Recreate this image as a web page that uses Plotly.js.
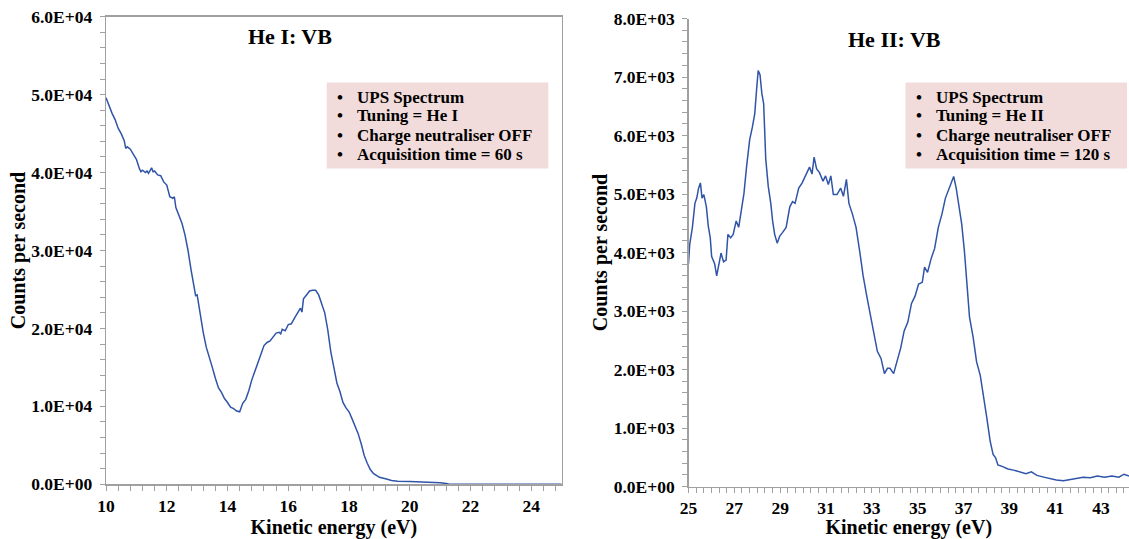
<!DOCTYPE html>
<html>
<head>
<meta charset="utf-8">
<script src="https://cdn.plot.ly/plotly-3.0.1.min.js"></script>
<style>html,body{margin:0;padding:0;background:#fff;}#chart{width:1129px;height:539px;}</style>
</head>
<body>
<div id="chart"></div>
<script>
// He I valence band spectrum
const heI_energy = [10.0,10.1,10.2,10.3,10.4,10.5,10.6,10.65,10.7,10.8,10.9,11.0,11.1,11.15,11.2,11.3,11.35,11.4,11.5,11.55,11.6,11.7,11.8,11.9,12.0,12.1,12.2,12.25,12.3,12.4,12.5,12.6,12.7,12.8,12.9,12.95,13.0,13.1,13.2,13.3,13.4,13.5,13.6,13.7,13.8,13.9,14.0,14.1,14.2,14.3,14.4,14.45,14.5,14.6,14.7,14.8,14.9,15.0,15.1,15.2,15.3,15.4,15.5,15.6,15.7,15.75,15.8,15.9,16.0,16.1,16.2,16.3,16.4,16.45,16.5,16.6,16.7,16.8,16.9,17.0,17.1,17.2,17.3,17.4,17.5,17.6,17.7,17.8,17.9,18.0,18.1,18.2,18.3,18.4,18.5,18.6,18.7,18.8,18.9,19.0,19.2,19.4,19.6,19.8,20.0,20.4,20.8,21.0,21.2,21.3,22.0,23.0,24.0,25.0];
const heI_counts = [49600,48500,47600,46800,45700,45000,44100,43100,43300,43000,42300,41700,40500,40100,40300,40000,40200,39900,40600,40100,40200,39700,39600,38800,38400,36900,36700,36900,35500,34400,33500,32000,30000,27500,25000,24200,24300,21800,19500,17600,16400,15000,13600,12400,11800,11000,10500,9900,9700,9400,9300,9800,10400,10900,12000,13400,14600,15500,16700,17800,18200,18400,18900,19400,19500,19300,19900,19700,20500,20600,21300,21900,22600,22100,23800,24300,24800,24900,24900,24300,23200,22000,19800,17000,15000,13000,11900,10500,9800,9300,8400,7500,6500,5200,3700,2700,1900,1400,1100,900,700,500,400,350,350,300,280,200,100,0,0,0,0,0];

// He II valence band spectrum
const heII_energy = [25.0,25.05,25.17,25.28,25.36,25.44,25.52,25.59,25.67,25.78,25.86,25.95,26.01,26.14,26.23,26.33,26.42,26.53,26.64,26.72,26.84,26.95,27.08,27.19,27.31,27.42,27.54,27.67,27.78,27.89,27.97,28.04,28.12,28.2,28.28,28.37,28.48,28.59,28.67,28.76,28.87,28.98,29.1,29.26,29.42,29.54,29.65,29.81,29.96,30.12,30.28,30.39,30.48,30.59,30.71,30.87,30.98,31.1,31.21,31.32,31.48,31.64,31.76,31.89,32.0,32.15,32.31,32.47,32.62,32.78,32.94,33.09,33.24,33.4,33.55,33.68,33.79,33.95,34.1,34.26,34.41,34.57,34.73,34.88,35.04,35.2,35.3,35.43,35.59,35.74,35.9,36.06,36.21,36.37,36.48,36.57,36.68,36.79,36.92,37.04,37.15,37.26,37.42,37.57,37.73,37.88,38.01,38.16,38.29,38.4,38.5,38.71,38.94,39.18,39.49,39.72,39.96,40.2,40.5,40.74,41.05,41.36,41.67,41.98,42.22,42.53,42.84,43.15,43.47,43.78,44.0,44.22];
const heII_counts = [3810,4130,4430,4840,4930,5100,5190,4930,4990,4780,4460,4250,3930,3810,3600,3810,3990,3840,3870,4310,4250,4310,4540,4430,4750,5010,5490,5930,6130,6370,6780,7110,7040,6720,6540,5600,5130,4840,4540,4310,4160,4280,4340,4430,4780,4870,4840,5100,5190,5340,5460,5340,5630,5430,5370,5220,5310,5160,5310,4990,4990,5100,4960,5250,4840,4660,4430,4020,3600,3250,2900,2630,2310,2190,1930,2020,2020,1930,2130,2370,2660,2810,3130,3250,3460,3490,3750,3660,3900,4070,4430,4660,4930,5100,5190,5300,5100,4840,4490,4020,3430,2900,2550,2130,1900,1550,1190,780,550,490,370,340,300,280,240,220,250,190,160,140,110,100,120,150,160,150,180,160,180,160,210,180];

// Axis ticks
const heI_xTicks = [10,12,14,16,18,20,22,24];
const heI_yTicks = [0,10000,20000,30000,40000,50000,60000];
const heI_yTickText = ["0.0E+00","1.0E+04","2.0E+04","3.0E+04","4.0E+04","5.0E+04","6.0E+04"];
const heII_xTicks = [25,27,29,31,33,35,37,39,41,43];
const heII_yTicks = [0,1000,2000,3000,4000,5000,6000,7000,8000];
const heII_yTickText = ["0.0E+00","1.0E+03","2.0E+03","3.0E+03","4.0E+03","5.0E+03","6.0E+03","7.0E+03","8.0E+03"];

// Text
const panelTitles = ["He I: VB","He II: VB"];
const xTitle = "Kinetic energy (eV)";
const yTitle = "Counts per second";
const heI_info = ["UPS Spectrum","Tuning = He I","Charge neutraliser OFF","Acquisition time = 60 s"];
const heII_info = ["UPS Spectrum","Tuning = He II","Charge neutraliser OFF","Acquisition time = 120 s"];

const W = 1129, H = 539;
const px = v => v / W;
const py = v => 1 - v / H;
const FONT = "Liberation Serif, Times New Roman, serif";
const LINE = "#2f54a8";
const AX = "#a0a0a0";

function axisX(domain, ticks, range, minorStep, t0, anchor) {
  return {
    domain: domain, range: range, anchor: anchor,
    tickmode: "array", tickvals: ticks,
    ticks: "outside", ticklen: 5, tickcolor: AX, tickwidth: 1,
    minor: {ticks: "outside", ticklen: 5, tickcolor: AX, dtick: minorStep, tick0: t0, showgrid: false},
    showline: true, linecolor: AX, linewidth: 1.3, mirror: true,
    showgrid: false, zeroline: false,
    tickfont: {family: FONT, size: 17.5, color: "#000", weight: "bold"},
    title: {text: xTitle, font: {family: FONT, size: 20, color: "#000", weight: "bold"}, standoff: 6},
    fixedrange: true
  };
}
function axisY(domain, ticks, text, range, minorStep, anchor, mirror) {
  return {
    domain: domain, range: range, anchor: anchor,
    tickmode: "array", tickvals: ticks, ticktext: text,
    ticks: "outside", ticklen: 5, tickcolor: AX, tickwidth: 1,
    ticklabelstandoff: 4,
    minor: {ticks: "outside", ticklen: 5, tickcolor: AX, dtick: minorStep, tick0: 0, showgrid: false},
    showline: true, linecolor: AX, linewidth: 1.3, mirror: mirror,
    showgrid: false, zeroline: false,
    tickfont: {family: FONT, size: 17.5, color: "#000", weight: "bold"},
    title: {text: yTitle, font: {family: FONT, size: 20, color: "#000", weight: "bold"}, standoff: 0},
    fixedrange: true
  };
}

const traces = [
  {x: heI_energy, y: heI_counts, xaxis: "x", yaxis: "y", type: "scatter", mode: "lines",
   line: {color: LINE, width: 1.5}, hoverinfo: "skip"},
  {x: heII_energy, y: heII_counts, xaxis: "x2", yaxis: "y2", type: "scatter", mode: "lines",
   line: {color: LINE, width: 1.5}, hoverinfo: "skip"}
];

const shapes = [
  {type: "rect", xref: "paper", yref: "paper", x0: px(326.7), x1: px(548.3), y0: py(168.5), y1: py(82.5),
   fillcolor: "#f2dcdb", line: {width: 0}, layer: "below"},
  {type: "rect", xref: "paper", yref: "paper", x0: px(905.5), x1: px(1127), y0: py(168.5), y1: py(82.5),
   fillcolor: "#f2dcdb", line: {width: 0}, layer: "below"}
];

const annotations = [
  {text: panelTitles[0], xref: "paper", yref: "paper", x: px(290), y: py(36), xanchor: "center", yanchor: "middle",
   showarrow: false, font: {family: FONT, size: 22, color: "#000", weight: "bold"}},
  {text: panelTitles[1], xref: "paper", yref: "paper", x: px(894), y: py(39), xanchor: "center", yanchor: "middle",
   showarrow: false, font: {family: FONT, size: 22, color: "#000", weight: "bold"}}
];
const lineY = [97, 116, 135, 154];
function addInfo(lines, bulletX, textX) {
  lines.forEach((t, i) => {
    annotations.push({text: "\u2022", xref: "paper", yref: "paper", x: px(bulletX), y: py(lineY[i]),
      xanchor: "center", yanchor: "middle", showarrow: false,
      font: {family: FONT, size: 17, color: "#000", weight: "bold"}});
    annotations.push({text: t, xref: "paper", yref: "paper", x: px(textX), y: py(lineY[i]),
      xanchor: "left", yanchor: "middle", showarrow: false,
      font: {family: FONT, size: 17, color: "#000", weight: "bold"}});
  });
}
addInfo(heI_info, 340, 355);
addInfo(heII_info, 919, 934);

const layout = {
  width: W, height: H,
  margin: {l: 0, r: 0, t: 0, b: 0},
  paper_bgcolor: "#fff", plot_bgcolor: "#fff",
  showlegend: false,
  xaxis: axisX([px(106), px(561.7)], heI_xTicks, [10, 25], 0.4, 10, "y"),
  yaxis: axisY([py(484.3), py(16.7)], heI_yTicks, heI_yTickText, [0, 60000], 2000, "x", true),
  xaxis2: axisX([px(688.5), 1], heII_xTicks, [25, 44.22], 1/3, 25, "y2"),
  yaxis2: axisY([py(486.5), py(18.5)], heII_yTicks, heII_yTickText, [0, 8000], 200, "x2", false),
  shapes: shapes,
  annotations: annotations
};
layout.xaxis2.mirror = false;

Plotly.newPlot("chart", traces, layout, {staticPlot: true, displayModeBar: false});
</script>
</body>
</html>
